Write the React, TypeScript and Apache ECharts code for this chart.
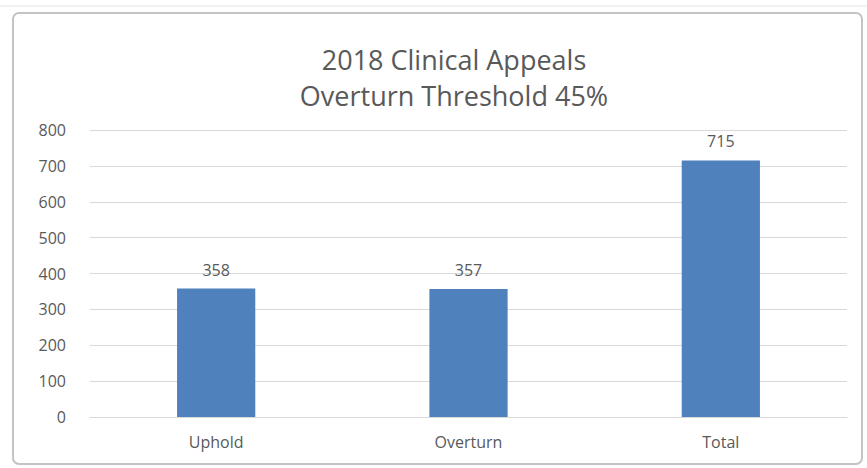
import React, { useEffect, useRef } from "react";
import * as echarts from "echarts";

const titleLines = ["2018 Clinical Appeals", "Overturn Threshold 45%"];
const categories = ["Uphold", "Overturn", "Total"];
const values = [358, 357, 715];
const yMin = 0;
const yMax = 800;
const yInterval = 100;

const FONT = "'Open Sans', Lato, sans-serif";
const TEXT = "#595959";

export default function App() {
  const ref = useRef<HTMLDivElement>(null);
  useEffect(() => {
    document.body.style.margin = "0";
    const chart = echarts.init(ref.current!, null, { renderer: "svg" });
    chart.setOption({
      animation: false,
      backgroundColor: "#ffffff",
      title: {
        text: titleLines.join("\n"),
        left: 449,
        textAlign: "center",
        top: 36,
        textStyle: {
          fontFamily: FONT,
          fontSize: 27,
          fontWeight: "normal",
          color: TEXT,
          lineHeight: 36,
        },
      },
      graphic: [
        {
          type: "line",
          shape: { x1: 0, y1: 6, x2: 867, y2: 6 },
          style: { stroke: "#e3e3e3", lineWidth: 1 },
          silent: true,
        },
        {
          type: "rect",
          shape: { x: 13, y: 13, width: 849, height: 451, r: 6 },
          style: { fill: "none", stroke: "#c4c4c4", lineWidth: 2 },
          silent: true,
        },
      ],
      grid: { left: 90, right: 20, top: 130, bottom: 51 },
      xAxis: {
        type: "category",
        data: categories,
        axisLine: { show: true, lineStyle: { color: "#d9d9d9" } },
        axisTick: { show: false },
        axisLabel: { color: TEXT, fontFamily: FONT, fontSize: 16, margin: 17 },
      },
      yAxis: {
        type: "value",
        min: yMin,
        max: yMax,
        interval: yInterval,
        axisLine: { show: false },
        axisTick: { show: false },
        axisLabel: { color: TEXT, fontFamily: FONT, fontSize: 16, margin: 24 },
        splitLine: { lineStyle: { color: "#d9d9d9" } },
      },
      series: [
        {
          type: "bar",
          data: values,
          barWidth: "31%",
          itemStyle: { color: "#4f81bd" },
          label: {
            show: true,
            position: "top",
            distance: 11,
            color: TEXT,
            fontFamily: FONT,
            fontSize: 16,
          },
        },
      ],
    });
    return () => chart.dispose();
  }, []);
  return <div ref={ref} style={{ width: 867, height: 468 }} />;
}
